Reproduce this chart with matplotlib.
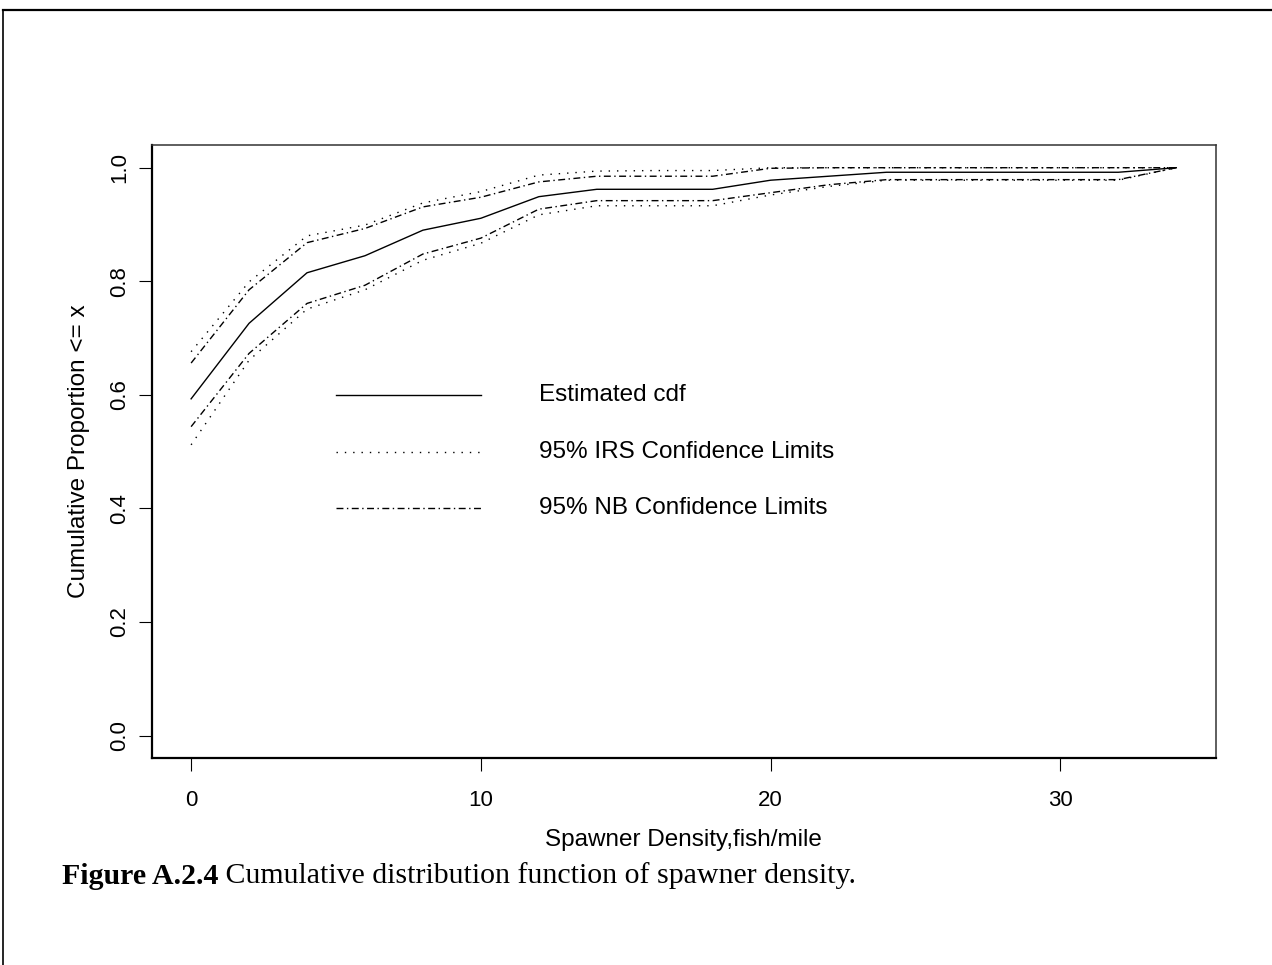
"""
Figure A.2.4 : spawner density の累積分布関数 (推定cdf と 95% 信頼限界)
"""

import matplotlib

matplotlib.use("Agg")
import matplotlib.pyplot as plt
from matplotlib.lines import Line2D

# データ
density = [0, 2, 4, 6, 8, 10, 12, 14, 16, 18, 20, 22, 24, 26, 28, 30, 32, 34]
cdf_est = [0.593, 0.726, 0.815, 0.845, 0.890, 0.911, 0.949, 0.962, 0.962, 0.962,
           0.978, 0.985, 0.992, 0.992, 0.992, 0.992, 0.992, 1.0]
irs_lower = [0.512, 0.661, 0.751, 0.785, 0.837, 0.867, 0.917, 0.933, 0.933, 0.933,
             0.952, 0.967, 0.978, 0.978, 0.978, 0.978, 0.978, 1.0]
irs_upper = [0.676, 0.799, 0.880, 0.899, 0.938, 0.958, 0.987, 0.994, 0.995, 0.995,
             1.0, 1.0, 1.0, 1.0, 1.0, 1.0, 1.0, 1.0]
nb_lower = [0.544, 0.673, 0.761, 0.793, 0.848, 0.876, 0.927, 0.942, 0.942, 0.942,
            0.956, 0.970, 0.979, 0.979, 0.979, 0.979, 0.979, 1.0]
nb_upper = [0.656, 0.785, 0.868, 0.893, 0.931, 0.948, 0.975, 0.985, 0.985, 0.985,
            0.999, 1.0, 1.0, 1.0, 1.0, 1.0, 1.0, 1.0]

x_ticks = [0, 10, 20, 30]
y_ticks = [0.0, 0.2, 0.4, 0.6, 0.8, 1.0]
legend_labels = ["Estimated cdf", "95% IRS Confidence Limits", "95% NB Confidence Limits"]

SANS = "Liberation Sans"
SERIF = "Liberation Serif"
FS_TICK = 16
FS = 17.5

DOT = (0, (1.0, 5.0))
DASHDOT = (0, (5.0, 2.5, 1.0, 2.5))

fig = plt.figure(figsize=(12.72, 9.65), dpi=100)
ax = fig.add_axes([151.7 / 1272, 1 - 758.3 / 965, 1064 / 1272, 613.3 / 965])

ax.plot(density, cdf_est, color="black", lw=1.0, ls="-")
ax.plot(density, irs_lower, color="black", lw=1.0, ls=DOT)
ax.plot(density, irs_upper, color="black", lw=1.0, ls=DOT)
ax.plot(density, nb_lower, color="black", lw=1.0, ls=DASHDOT)
ax.plot(density, nb_upper, color="black", lw=1.0, ls=DASHDOT)

# R 風の 4% 余白
ax.set_xlim(-0.04 * 34, 34 * 1.04)
ax.set_ylim(-0.04, 1.04)

ax.set_xticks(x_ticks)
ax.set_xticklabels([str(t) for t in x_ticks], fontsize=FS_TICK, family=SANS)
ax.set_yticks(y_ticks)
ax.set_yticklabels([f"{t:.1f}" for t in y_ticks], fontsize=FS_TICK, family=SANS,
                   rotation=90, va="center")
ax.tick_params(axis="x", direction="out", length=9.5, width=0.8, pad=13)
ax.tick_params(axis="y", direction="out", length=9.5, width=0.8, pad=6)

for side in ["left", "bottom"]:
    ax.spines[side].set_linewidth(1.6)
for side in ["top", "right"]:
    ax.spines[side].set_linewidth(1.1)
    ax.spines[side].set_color("#333333")

ax.set_xlabel("Spawner Density,fish/mile", fontsize=FS, family=SANS, labelpad=13)
ax.set_ylabel("Cumulative Proportion <= x", fontsize=FS, family=SANS, labelpad=14)

# 手書き凡例 (線 + テキスト)
styles = ["-", DOT, DASHDOT]
for i, (lab, st) in enumerate(zip(legend_labels, styles)):
    yy = 0.6 - 0.1 * i
    ax.add_line(Line2D([5, 10], [yy, yy], color="black", lw=1.0, ls=st))
    ax.text(12, yy, lab, fontsize=FS, family=SANS, va="center", ha="left")

# 外枠 (上・左)
fig.add_artist(Line2D([3 / 1272, 1], [1 - 10 / 965, 1 - 10 / 965],
                      transform=fig.transFigure, color="black", lw=1.6))
fig.add_artist(Line2D([3 / 1272, 3 / 1272], [0, 1 - 10 / 965],
                      transform=fig.transFigure, color="black", lw=1.2))

# キャプション
cap_y = 1 - 876 / 965
t1 = fig.text(62 / 1272, cap_y, "Figure A.2.4", fontsize=21.5, family=SERIF,
              fontweight="bold", va="center", ha="left")
fig.canvas.draw()
bb = t1.get_window_extent(renderer=fig.canvas.get_renderer())
fig.text(bb.x1 / 1272, cap_y, " Cumulative distribution function of spawner density.",
         fontsize=21.5, family=SERIF, va="center", ha="left")

fig.savefig("out.png", dpi=100)
plt.close(fig)
